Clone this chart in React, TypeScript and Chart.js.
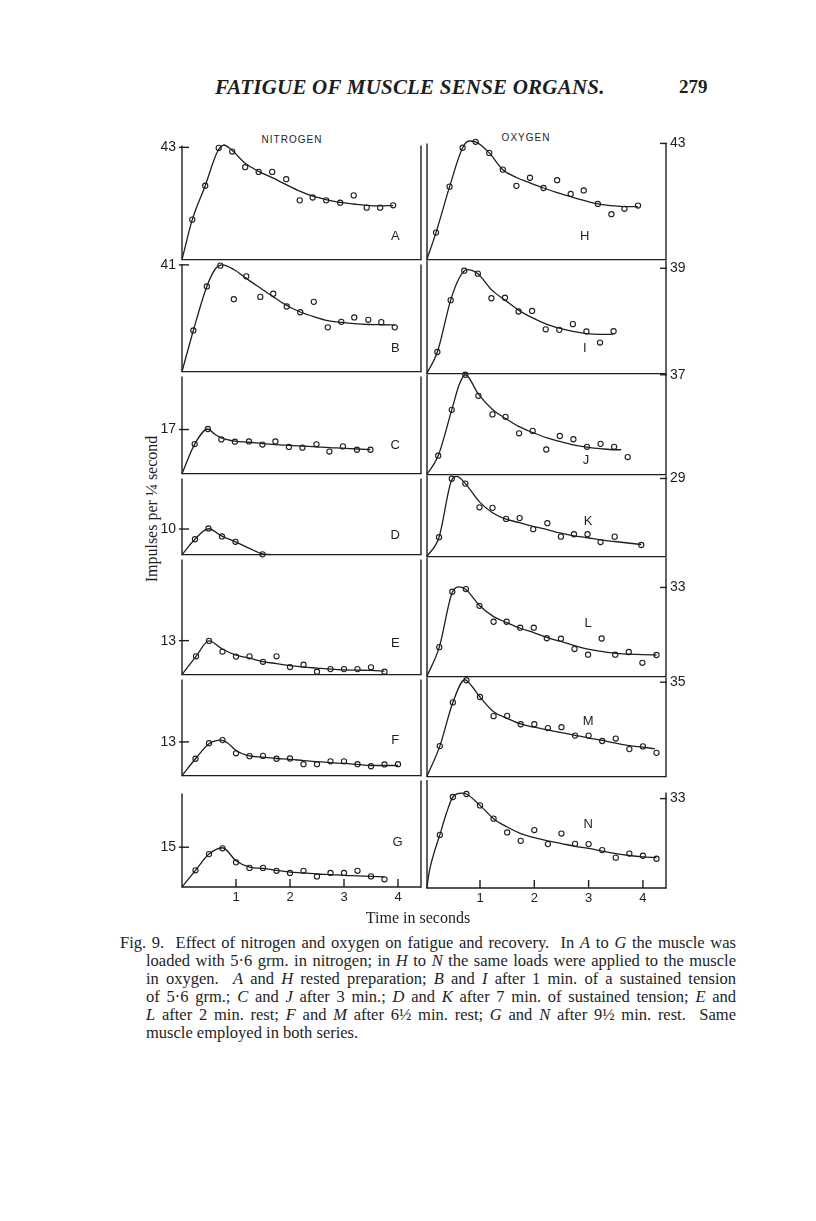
import React, { useEffect, useRef } from "react";
import { Chart, registerables } from "chart.js";
Chart.register(...registerables);

const INK = "#1e1e1e";
const SANS = "'Liberation Sans', Arial, sans-serif";
const SERIF = "'Liberation Serif', 'Times New Roman', serif";

// ---------- data: time (s) / impulses per 1/4 second ----------
// NITROGEN
const ptT_A = [0.19, 0.43, 0.68, 0.93, 1.17, 1.42, 1.67, 1.93, 2.18, 2.42, 2.67, 2.93, 3.18, 3.42, 3.67, 3.91];
const ptV_A = [15.3, 28.3, 42.8, 41.4, 35.4, 33.6, 33.6, 30.8, 22.7, 23.8, 22.7, 21.8, 24.6, 19.9, 19.9, 20.8];
const fitT_A = [0, 0.19, 0.43, 0.66, 0.78, 0.93, 1.17, 1.42, 1.67, 1.93, 2.18, 2.42, 2.67, 2.93, 3.18, 3.42, 3.67, 3.91];
const fitV_A = [0, 15.3, 28.3, 41.5, 43.9, 41.8, 36.9, 33.8, 31.4, 28.7, 26.2, 24.3, 23.0, 21.9, 21.3, 20.8, 20.6, 20.7];

const ptT_B = [0.21, 0.46, 0.71, 0.96, 1.19, 1.45, 1.69, 1.94, 2.19, 2.44, 2.7, 2.95, 3.19, 3.45, 3.69, 3.94];
const ptV_B = [15.8, 32.7, 40.7, 27.8, 36.6, 28.7, 29.9, 25.0, 22.8, 26.8, 17.0, 19.1, 20.8, 19.9, 19.0, 17.0];
const fitT_B = [0, 0.21, 0.46, 0.62, 0.75, 0.96, 1.19, 1.45, 1.69, 1.94, 2.19, 2.44, 2.7, 2.95, 3.19, 3.45, 3.69, 3.94];
const fitV_B = [0, 15.8, 32.7, 39.5, 41.0, 39.2, 35.8, 32.1, 28.7, 25.4, 22.9, 21.1, 19.6, 18.9, 18.4, 18.1, 18.0, 17.9];

const ptT_C = [0.235, 0.48, 0.73, 0.98, 1.24, 1.49, 1.73, 1.98, 2.23, 2.49, 2.73, 2.98, 3.24, 3.49];
const ptV_C = [11.4, 17.2, 13.2, 12.3, 12.4, 11.2, 12.4, 10.3, 10.0, 11.3, 8.5, 10.5, 9.2, 9.2];
const fitT_C = [0, 0.235, 0.48, 0.6, 0.73, 0.98, 1.24, 1.49, 1.73, 1.98, 2.23, 2.49, 2.73, 2.98, 3.24, 3.49];
const fitV_C = [0, 11.4, 17.2, 15.3, 13.8, 12.5, 12.1, 11.6, 11.2, 10.9, 10.6, 10.3, 10.0, 9.8, 9.5, 9.3];

const ptT_D = [0.24, 0.49, 0.74, 0.99, 1.49];
const ptV_D = [6.0, 10.2, 7.1, 5.0, 0.1];
const fitT_D = [0, 0.24, 0.49, 0.74, 0.99, 1.25, 1.49, 1.65];
const fitV_D = [0, 6.0, 10.1, 7.2, 5.0, 2.4, 0.3, 0.0];

const ptT_E = [0.26, 0.5, 0.75, 1.0, 1.25, 1.5, 1.75, 2.0, 2.25, 2.5, 2.75, 3.0, 3.25, 3.5, 3.75];
const ptV_E = [7.0, 12.9, 8.8, 6.9, 7.0, 4.9, 7.0, 2.9, 3.8, 1.1, 2.1, 2.1, 2.1, 2.8, 1.1];
const fitT_E = [0, 0.26, 0.5, 0.75, 1.0, 1.25, 1.5, 1.75, 2.0, 2.25, 2.5, 2.75, 3.0, 3.25, 3.5, 3.75];
const fitV_E = [0, 7.0, 12.9, 9.7, 7.5, 6.3, 5.0, 4.2, 3.4, 2.9, 2.5, 2.1, 1.8, 1.7, 1.6, 1.3];

const ptT_F = [0.25, 0.5, 0.75, 1.0, 1.25, 1.5, 1.75, 2.0, 2.25, 2.5, 2.75, 3.0, 3.25, 3.5, 3.75, 4.0];
const ptV_F = [6.5, 12.5, 13.7, 8.6, 7.5, 7.6, 6.5, 6.6, 4.4, 4.4, 5.5, 5.5, 4.4, 3.6, 4.3, 4.4];
const fitT_F = [0, 0.25, 0.5, 0.72, 0.85, 1.0, 1.25, 1.5, 1.75, 2.0, 2.25, 2.5, 2.75, 3.0, 3.25, 3.5, 3.75, 4.0];
const fitV_F = [0, 6.5, 12.3, 13.7, 12.5, 9.7, 7.6, 7.1, 6.6, 6.3, 5.8, 5.4, 5.0, 4.7, 4.3, 3.9, 3.9, 3.9];

const ptT_G = [0.25, 0.5, 0.75, 1.0, 1.25, 1.5, 1.75, 2.0, 2.25, 2.5, 2.75, 3.0, 3.25, 3.5, 3.75];
const ptV_G = [6.3, 12.4, 14.6, 9.3, 7.2, 7.2, 6.1, 5.3, 6.1, 4.0, 5.3, 5.3, 6.1, 4.0, 2.9];
const fitT_G = [0, 0.25, 0.5, 0.75, 1.0, 1.25, 1.5, 1.75, 2.0, 2.25, 2.5, 2.75, 3.0, 3.25, 3.5, 3.75];
const fitV_G = [0, 6.3, 12.4, 14.8, 9.9, 7.5, 7.0, 6.3, 5.6, 5.3, 4.9, 4.7, 4.4, 4.2, 4.0, 3.8];

// OXYGEN
const ptT_H = [0.19, 0.44, 0.68, 0.92, 1.17, 1.42, 1.67, 1.92, 2.17, 2.42, 2.67, 2.91, 3.17, 3.42, 3.66, 3.91];
const ptV_H = [10.0, 27.0, 41.4, 43.6, 39.5, 33.3, 27.3, 30.3, 26.5, 29.4, 24.3, 25.6, 20.6, 16.8, 18.8, 20.0];
const fitT_H = [0.02, 0.19, 0.44, 0.68, 0.8, 0.92, 1.17, 1.42, 1.67, 1.92, 2.17, 2.42, 2.67, 2.91, 3.17, 3.42, 3.66, 3.91];
const fitV_H = [0, 10.0, 27.0, 41.4, 43.9, 43.6, 39.5, 33.3, 30.4, 28.4, 26.5, 24.8, 23.3, 21.9, 20.6, 20.0, 19.6, 19.6];

const ptT_I = [0.215, 0.46, 0.71, 0.96, 1.21, 1.46, 1.71, 1.96, 2.21, 2.46, 2.71, 2.96, 3.21, 3.46];
const ptV_I = [8.0, 27.2, 38.1, 37.0, 27.9, 28.1, 23.0, 23.2, 16.4, 16.2, 18.3, 15.6, 11.5, 15.7];
const fitT_I = [0.02, 0.215, 0.46, 0.62, 0.76, 0.96, 1.21, 1.46, 1.71, 1.96, 2.21, 2.46, 2.71, 2.96, 3.21, 3.46];
const fitV_I = [0, 8.0, 27.2, 35.5, 38.5, 37.0, 31.1, 27.2, 23.5, 20.7, 18.4, 16.8, 15.6, 14.8, 14.5, 14.6];

const ptT_J = [0.23, 0.48, 0.73, 0.97, 1.23, 1.47, 1.72, 1.97, 2.22, 2.47, 2.72, 2.97, 3.22, 3.47, 3.72];
const ptV_J = [7.0, 24.0, 37.0, 29.2, 22.3, 21.4, 15.3, 16.2, 9.3, 14.3, 13.1, 10.3, 11.4, 10.3, 6.5];
const fitT_J = [0.02, 0.23, 0.48, 0.62, 0.73, 0.97, 1.23, 1.47, 1.72, 1.97, 2.22, 2.47, 2.72, 2.97, 3.22, 3.47, 3.6];
const fitV_J = [0, 7.0, 24.0, 33.5, 37.0, 29.8, 24.1, 20.8, 17.8, 15.6, 13.7, 12.3, 11.0, 10.2, 9.6, 9.2, 9.2];

const ptT_K = [0.245, 0.48, 0.73, 0.99, 1.23, 1.48, 1.73, 1.98, 2.24, 2.49, 2.73, 2.98, 3.22, 3.48, 3.97];
const ptV_K = [7.2, 28.9, 27.1, 18.3, 18.1, 14.0, 14.3, 10.2, 12.4, 7.4, 8.3, 8.3, 5.4, 7.4, 4.3];
const fitT_K = [0.02, 0.245, 0.48, 0.57, 0.73, 0.99, 1.23, 1.48, 1.73, 1.98, 2.24, 2.49, 2.73, 2.98, 3.22, 3.48, 3.97];
const fitV_K = [0, 7.2, 28.5, 29.8, 27.1, 20.3, 16.3, 13.9, 12.6, 11.2, 10.0, 8.7, 7.7, 7.0, 6.2, 5.6, 4.5];

const ptT_L = [0.25, 0.49, 0.74, 0.99, 1.25, 1.49, 1.74, 1.99, 2.23, 2.49, 2.74, 2.99, 3.24, 3.49, 3.74, 3.99, 4.25];
const ptV_L = [10.9, 31.4, 32.4, 26.2, 20.3, 20.3, 18.1, 18.1, 14.2, 14.0, 10.2, 8.1, 14.1, 8.1, 9.1, 5.1, 8.0];
const fitT_L = [0.02, 0.25, 0.49, 0.62, 0.74, 0.99, 1.25, 1.49, 1.74, 1.99, 2.23, 2.49, 2.74, 2.99, 3.24, 3.49, 3.74, 3.99, 4.25];
const fitV_L = [0, 10.9, 31.2, 33.2, 32.2, 26.3, 22.2, 20.0, 17.9, 16.3, 14.5, 13.0, 11.5, 10.2, 9.3, 8.6, 8.3, 8.1, 8.0];

const ptT_M = [0.26, 0.5, 0.75, 1.0, 1.25, 1.5, 1.75, 2.0, 2.25, 2.5, 2.75, 3.0, 3.25, 3.5, 3.75, 4.0, 4.25];
const ptV_M = [11.3, 27.5, 35.7, 29.5, 22.4, 22.5, 19.4, 19.4, 18.0, 18.3, 15.2, 15.2, 13.2, 14.1, 10.2, 11.2, 8.8];
const fitT_M = [0.02, 0.26, 0.5, 0.72, 0.85, 1.0, 1.25, 1.5, 1.75, 2.0, 2.25, 2.5, 2.75, 3.0, 3.25, 3.5, 3.75, 4.0, 4.22];
const fitV_M = [0, 11.3, 27.5, 35.9, 33.5, 29.5, 24.0, 21.6, 19.5, 18.3, 17.3, 16.3, 15.3, 14.3, 13.4, 12.4, 11.5, 10.9, 10.3];

const ptT_N = [0.26, 0.5, 0.75, 1.0, 1.25, 1.5, 1.75, 2.0, 2.25, 2.5, 2.75, 3.0, 3.25, 3.5, 3.75, 4.0, 4.25];
const ptV_N = [19.6, 33.6, 34.7, 30.5, 25.6, 20.5, 17.4, 21.4, 16.2, 20.1, 16.3, 16.2, 14.0, 11.2, 12.7, 11.9, 10.8];
const fitT_N = [0.02, 0.07, 0.14, 0.26, 0.38, 0.5, 0.66, 0.75, 1.0, 1.25, 1.5, 1.75, 2.0, 2.25, 2.5, 2.75, 3.0, 3.25, 3.5, 3.75, 4.0, 4.25];
const fitV_N = [0, 6.5, 12.0, 19.6, 27.5, 33.6, 35.0, 34.7, 30.5, 25.6, 22.5, 20.1, 18.6, 17.4, 16.4, 15.4, 14.6, 13.6, 12.7, 12.0, 11.5, 11.2];

// labelled y tick (peak value) of each panel
const peakTicks = { A: 43, B: 41, C: 17, D: 10, E: 13, F: 13, G: 15, H: 43, I: 39, J: 37, K: 29, L: 33, M: 35, N: 33 };
const xTickValues = [1, 2, 3, 4];

// ---------- layout ----------
const PX_PER_UNIT = 2.72;
const COLS = {
  L: { left: 182, right: 421, min: 0, max: 4.426 },
  R: { left: 427, right: 666, min: 0.024, max: 4.425 },
};

type PanelDef = {
  id: string; col: "L" | "R"; top: number; bottom: number;
  ptT: number[]; ptV: number[]; fitT: number[]; fitV: number[];
  letterAt: [number, number]; bottomAxis?: boolean; leftExt?: number; rightExt?: number;
};

const panels: PanelDef[] = [
  { id: "A", col: "L", top: 143, bottom: 262, ptT: ptT_A, ptV: ptV_A, fitT: fitT_A, fitV: fitV_A, letterAt: [3.95, 8.8] },
  { id: "B", col: "L", top: 262, bottom: 374, ptT: ptT_B, ptV: ptV_B, fitT: fitT_B, fitV: fitV_B, letterAt: [3.95, 8.8] },
  { id: "C", col: "L", top: 374, bottom: 476, ptT: ptT_C, ptV: ptV_C, fitT: fitT_C, fitV: fitV_C, letterAt: [3.95, 10.7] },
  { id: "D", col: "L", top: 476, bottom: 557, ptT: ptT_D, ptV: ptV_D, fitT: fitT_D, fitV: fitV_D, letterAt: [3.95, 7.4] },
  { id: "E", col: "L", top: 557, bottom: 677, ptT: ptT_E, ptV: ptV_E, fitT: fitT_E, fitV: fitV_E, letterAt: [3.95, 11.8] },
  { id: "F", col: "L", top: 677, bottom: 778, ptT: ptT_F, ptV: ptV_F, fitT: fitT_F, fitV: fitV_F, letterAt: [3.95, 13.6] },
  { id: "G", col: "L", top: 791, bottom: 887, ptT: ptT_G, ptV: ptV_G, fitT: fitT_G, fitV: fitV_G, letterAt: [3.99, 16.9], bottomAxis: true, rightExt: 13 },
  { id: "H", col: "R", top: 143, bottom: 260, ptT: ptT_H, ptV: ptV_H, fitT: fitT_H, fitV: fitV_H, letterAt: [2.93, 8.5] },
  { id: "I", col: "R", top: 260, bottom: 374, ptT: ptT_I, ptV: ptV_I, fitT: fitT_I, fitV: fitV_I, letterAt: [2.93, 9.2] },
  { id: "J", col: "R", top: 374, bottom: 475, ptT: ptT_J, ptV: ptV_J, fitT: fitT_J, fitV: fitV_J, letterAt: [2.95, 5.1] },
  { id: "K", col: "R", top: 475, bottom: 557, ptT: ptT_K, ptV: ptV_K, fitT: fitT_K, fitV: fitV_K, letterAt: [2.99, 12.9] },
  { id: "L", col: "R", top: 557, bottom: 677, ptT: ptT_L, ptV: ptV_L, fitT: fitT_L, fitV: fitV_L, letterAt: [2.99, 19.5] },
  { id: "M", col: "R", top: 677, bottom: 777, ptT: ptT_M, ptV: ptV_M, fitT: fitT_M, fitV: fitV_M, letterAt: [2.99, 20.6] },
  { id: "N", col: "R", top: 792, bottom: 888, ptT: ptT_N, ptV: ptV_N, fitT: fitT_N, fitV: fitV_N, letterAt: [2.99, 23.5], bottomAxis: true, leftExt: 15 },
];

const framePlugin = {
  id: "frame",
  afterDraw(chart: any, _args: any, o: any) {
    const { ctx, chartArea: a, scales } = chart;
    ctx.save();
    ctx.strokeStyle = INK;
    ctx.lineWidth = 1.4;
    const line = (x1: number, y1: number, x2: number, y2: number) => {
      ctx.beginPath(); ctx.moveTo(x1, y1); ctx.lineTo(x2, y2); ctx.stroke();
    };
    line(a.left, a.top - (o.leftExt || 0), a.left, a.bottom + 0.7);
    line(a.right, a.top - (o.rightExt || 0), a.right, a.bottom + 0.7);
    line(a.left, a.bottom, a.right, a.bottom);
    const ys = scales.y;
    for (const t of ys.ticks) {
      const py = ys.getPixelForValue(t.value);
      if (o.side === "L") line(a.left - 3, py, a.left + 7, py);
      else line(a.right + 1, py, a.right - 6, py);
    }
    if (o.bottomAxis) {
      for (const t of scales.x.ticks) {
        const px = scales.x.getPixelForValue(t.value);
        line(px, a.bottom, px, a.bottom - 8);
      }
    }
    ctx.fillStyle = INK;
    ctx.font = `13px ${SANS}`;
    ctx.textAlign = "center";
    ctx.textBaseline = "middle";
    ctx.fillText(o.letter, scales.x.getPixelForValue(o.letterAt[0]), ys.getPixelForValue(o.letterAt[1]));
    ctx.restore();
  },
};

const AXW = 34;
const PAD = 12;
const XAH = 24;

function Panel({ d }: { d: PanelDef }) {
  const ref = useRef<HTMLCanvasElement>(null);
  const g = COLS[d.col];
  const isL = d.col === "L";
  const padL = isL ? 0 : 8;
  const padR = isL ? 8 : 0;
  const left = isL ? g.left - AXW : g.left - padL;
  const width = g.right - g.left + AXW + 8;
  const top = d.top - PAD;
  const height = d.bottom - d.top + PAD + (d.bottomAxis ? XAH + 2 : PAD);

  useEffect(() => {
    const ymax = (d.bottom - d.top) / PX_PER_UNIT;
    const tickVal = (peakTicks as any)[d.id];
    const chart = new Chart(ref.current as HTMLCanvasElement, {
      type: "scatter",
      data: {
        datasets: [
          {
            data: d.fitT.map((x, i) => ({ x, y: d.fitV[i] })),
            showLine: true,
            borderColor: INK,
            borderWidth: 1.3,
            pointRadius: 0,
            cubicInterpolationMode: "monotone",
            clip: false,
            order: 2,
          } as any,
          {
            data: d.ptT.map((x, i) => ({ x, y: d.ptV[i] })),
            showLine: false,
            pointRadius: 2.6,
            pointBorderWidth: 1.1,
            pointBorderColor: INK,
            pointBackgroundColor: "rgba(0,0,0,0)",
            borderColor: INK,
            clip: false,
            order: 1,
          } as any,
        ],
      },
      options: {
        animation: false,
        responsive: false,
        events: [],
        layout: { padding: { left: padL, right: padR, top: PAD, bottom: d.bottomAxis ? 2 : PAD } },
        plugins: {
          legend: { display: false },
          tooltip: { enabled: false },
          frame: { side: d.col, letter: d.id, letterAt: d.letterAt, bottomAxis: !!d.bottomAxis, leftExt: d.leftExt, rightExt: d.rightExt },
        } as any,
        scales: {
          x: {
            type: "linear",
            min: g.min,
            max: g.max,
            display: !!d.bottomAxis,
            afterBuildTicks: (s: any) => { s.ticks = xTickValues.map((v) => ({ value: v })); },
            afterFit: (s: any) => { s.height = d.bottomAxis ? XAH : 0; },
            grid: { display: false, drawTicks: false },
            border: { display: false },
            ticks: { padding: 3, color: INK, font: { family: SANS, size: 13 }, callback: (v: any) => String(v), autoSkip: false, maxRotation: 0 },
          },
          y: {
            type: "linear",
            min: 0,
            max: ymax,
            position: isL ? "left" : "right",
            afterBuildTicks: (s: any) => { s.ticks = [{ value: tickVal }]; },
            afterFit: (s: any) => { s.width = AXW; },
            grid: { display: false, drawTicks: false },
            border: { display: false },
            ticks: { padding: isL ? 6 : 4, color: INK, font: { family: SANS, size: 14 }, callback: (v: any) => String(v) },
          },
        } as any,
      },
      plugins: [framePlugin as any],
    });
    return () => chart.destroy();
  }, []);

  return (
    <canvas
      ref={ref}
      width={width}
      height={height}
      style={{ position: "absolute", left, top, width, height }}
    />
  );
}

const captionLines: React.ReactNode[] = [
  <>Fig. 9.&nbsp; Effect of nitrogen and oxygen on fatigue and recovery.&nbsp; In <i>A</i> to <i>G</i> the muscle was</>,
  <>loaded with 5·6 grm. in nitrogen; in <i>H</i> to <i>N</i> the same loads were applied to the muscle</>,
  <>in oxygen.&nbsp; <i>A</i> and <i>H</i> rested preparation; <i>B</i> and <i>I</i> after 1 min. of a sustained tension</>,
  <>of 5·6 grm.; <i>C</i> and <i>J</i> after 3 min.; <i>D</i> and <i>K</i> after 7 min. of sustained tension; <i>E</i> and</>,
  <><i>L</i> after 2 min. rest; <i>F</i> and <i>M</i> after 6½ min. rest; <i>G</i> and <i>N</i> after 9½ min. rest.&nbsp; Same</>,
  <>muscle employed in both series.</>,
];

export default function App() {
  return (
    <div style={{ position: "absolute", left: 0, top: 0, width: 816, height: 1221, background: "#fff", color: INK, overflow: "hidden" }}>
      <div style={{ position: "absolute", left: 215, top: 75, fontFamily: SERIF, fontWeight: 700, fontStyle: "italic", fontSize: 21, lineHeight: "24px", whiteSpace: "nowrap", letterSpacing: 0.2 }}>
        FATIGUE OF MUSCLE SENSE ORGANS.
      </div>
      <div style={{ position: "absolute", left: 679, top: 75, fontFamily: SERIF, fontWeight: 700, fontSize: 19, lineHeight: "24px" }}>279</div>

      <div style={{ position: "absolute", left: 292, top: 139, transform: "translate(-50%,-50%)", fontFamily: SANS, fontSize: 10, letterSpacing: 1, whiteSpace: "nowrap" }}>NITROGEN</div>
      <div style={{ position: "absolute", left: 526, top: 137, transform: "translate(-50%,-50%)", fontFamily: SANS, fontSize: 10, letterSpacing: 1, whiteSpace: "nowrap" }}>OXYGEN</div>

      <div style={{ position: "absolute", left: 152, top: 509, transform: "translate(-50%,-50%) rotate(-90deg)", fontFamily: SERIF, fontSize: 16, whiteSpace: "nowrap" }}>
        Impulses per ¼ second
      </div>

      {panels.map((d) => (
        <Panel key={d.id} d={d} />
      ))}

      <div style={{ position: "absolute", left: 418, top: 918, transform: "translate(-50%,-50%)", fontFamily: SERIF, fontSize: 16, whiteSpace: "nowrap" }}>
        Time in seconds
      </div>

      {captionLines.map((ln, i) => (
        <div
          key={i}
          style={{
            position: "absolute",
            left: i === 0 ? 120 : 146,
            top: 934 + i * 18,
            width: i === 0 ? 616 : 590,
            fontFamily: SERIF,
            fontSize: 16.5,
            lineHeight: "18px",
            height: 18,
            textAlign: "justify",
            textAlignLast: i < captionLines.length - 1 ? "justify" : "left",
          } as any}
        >
          {ln}
        </div>
      ))}
    </div>
  );
}
